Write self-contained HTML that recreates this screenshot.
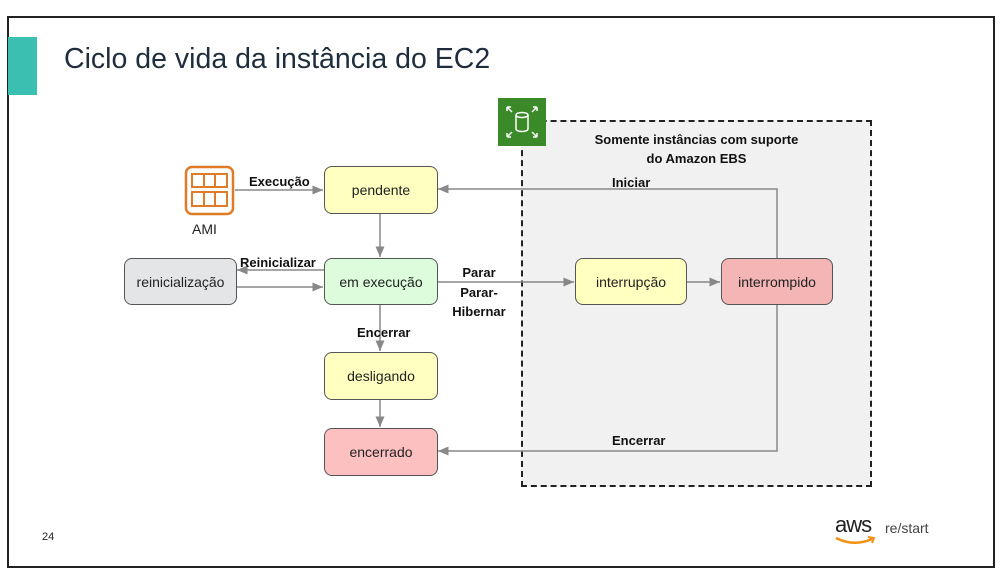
<!DOCTYPE html>
<html><head><meta charset="utf-8"><style>
body{margin:0;background:#fff;width:1003px;height:583px;overflow:hidden;font-family:"Liberation Sans",sans-serif}
.n{position:absolute;border:1px solid #555;border-radius:8px;display:flex;align-items:center;justify-content:center;font-size:14px;color:#222;box-sizing:border-box}
.l{position:absolute;font-weight:bold;font-size:13px;color:#111;white-space:nowrap}
</style></head><body>
<div style="position:absolute;left:7px;top:16px;width:988px;height:552px;border:2px solid #222;box-sizing:border-box"></div>
<div style="position:absolute;left:8px;top:37px;width:29px;height:58px;background:#3bbfb0"></div>
<div style="position:absolute;left:64px;top:43px;font-size:28.5px;color:#1f2d3d">Ciclo de vida da instância do EC2</div>
<div style="position:absolute;left:521px;top:120px;width:351px;height:367px;background:#f1f1f1;border:2px dashed #222;box-sizing:border-box"></div>
<div style="position:absolute;left:498px;top:98px;width:48px;height:48px;background:#3a8a2a"></div>
<svg style="position:absolute;left:498px;top:98px" width="48" height="48" fill="none" stroke="#fff" stroke-width="1.5">
<ellipse cx="24" cy="17" rx="6" ry="2.5"/><path d="M18 17v14a6 2.5 0 0 0 12 0V17"/>
<path d="M9 9l5 5M9 9h4M9 9v4M39 9l-5 5M39 9h-4M39 9v4M9 39l5-5M9 39h4M9 39v-4M39 39l-5-5M39 39h-4M39 39v-4"/></svg>
<div class="l" style="left:521px;width:351px;text-align:center;top:130px;line-height:19px">Somente instâncias com suporte<br>do Amazon EBS</div>
<svg style="position:absolute;left:0;top:0" width="1003" height="583">
<defs><marker id="a" markerWidth="8" markerHeight="8" refX="7" refY="4" orient="auto"><path d="M0,1L7,4L0,7z" fill="#888"/></marker></defs>
<g stroke="#888" stroke-width="1.5" fill="none" marker-end="url(#a)">
<path d="M235 190H323"/><path d="M380 213V257"/><path d="M324 270H237"/><path d="M237 287H323"/>
<path d="M437 282H574"/><path d="M686 282H720"/><path d="M777 258V189H438"/><path d="M777 304V451H438"/>
<path d="M380 304V351"/><path d="M380 399V427"/></g>
<rect x="186" y="167" width="47" height="47" rx="6" fill="none" stroke="#e07b28" stroke-width="2.5"/>
<g fill="none" stroke="#e07b28" stroke-width="2"><rect x="192" y="174" width="35" height="13"/><rect x="192" y="192" width="35" height="14"/><path d="M204 174v13M215 174v13M204 192v14M215 192v14"/></g>
</svg>
<div style="position:absolute;left:192px;top:221px;font-size:14px;color:#222">AMI</div>
<div class="n" style="left:324px;top:166px;width:114px;height:48px;background:#ffffc0">pendente</div>
<div class="n" style="left:324px;top:258px;width:114px;height:47px;background:#dcfcdc">em execução</div>
<div class="n" style="left:124px;top:258px;width:113px;height:47px;background:#e3e5e6">reinicialização</div>
<div class="n" style="left:324px;top:352px;width:114px;height:48px;background:#ffffc0">desligando</div>
<div class="n" style="left:324px;top:428px;width:114px;height:48px;background:#fcc0c0">encerrado</div>
<div class="n" style="left:575px;top:258px;width:112px;height:47px;background:#ffffc0">interrupção</div>
<div class="n" style="left:721px;top:258px;width:112px;height:47px;background:#f4b5b5">interrompido</div>
<div class="l" style="left:249px;top:174px">Execução</div>
<div class="l" style="left:240px;top:255px">Reinicializar</div>
<div class="l" style="left:440px;width:78px;text-align:center;top:263px;line-height:19.5px">Parar<br>Parar-<br>Hibernar</div>
<div class="l" style="left:357px;top:325px">Encerrar</div>
<div class="l" style="left:612px;top:175px">Iniciar</div>
<div class="l" style="left:612px;top:433px">Encerrar</div>
<div style="position:absolute;left:42px;top:531px;font-size:11px;color:#222">24</div>
<div style="position:absolute;left:835px;top:512px;font-size:22px;color:#222;letter-spacing:-1px">aws</div>
<div style="position:absolute;left:885px;top:520px;font-size:14px;color:#444">re/start</div>
<svg style="position:absolute;left:834px;top:535px" width="50" height="14"><path d="M2 3Q20 12 38 4" stroke="#f29111" stroke-width="2.5" fill="none"/><path d="M34 2l6 1-2 5" stroke="#f29111" stroke-width="2" fill="none"/></svg>
</body></html>
